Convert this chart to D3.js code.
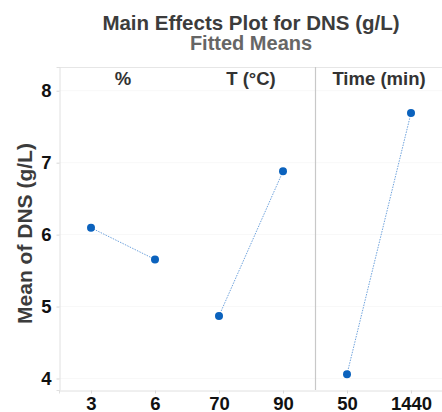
<!DOCTYPE html>
<html>
<head>
<meta charset="utf-8">
<script src="https://cdn.jsdelivr.net/npm/d3@7"></script>
<style>
  html, body { margin: 0; padding: 0; background: #fff; }
  svg { display: block; font-family: "Liberation Sans", Arial, sans-serif; }
</style>
</head>
<body>
<svg id="chart" width="442" height="412"></svg>
<script>
// ---- data ----
const factors = ["%", "T (°C)", "Time (min)"];
const levels = [["3", "6"], ["70", "90"], ["50", "1440"]];
const means = [[6.095, 5.655], [4.87, 6.88], [4.06, 7.69]];
const yTicks = [4, 5, 6, 7, 8];
const titleText = "Main Effects Plot for DNS (g/L)";
const subtitleText = "Fitted Means";
const yLabel = "Mean of DNS (g/L)";

(function () {
// ---- layout ----
const svg = d3.select("#chart");
const pLeft = 59, pRight = 443, pTop = 67, pBottom = 390;

const y = d3.scaleLinear().domain([3.84, 8.33]).range([pBottom, pTop]);

const panel = d3.scaleBand().domain(factors).range([pLeft, pRight]).padding(0);
const allLevels = [];
factors.forEach((f, i) => levels[i].forEach(l => allLevels.push(f + "|" + l)));
const x = d3.scalePoint().domain(allLevels).range([pLeft, pRight]).padding(0.5);

// faint gridlines
svg.append("g").selectAll("line").data(yTicks).join("line")
  .attr("x1", pLeft).attr("x2", pRight)
  .attr("y1", d => y(d)).attr("y2", d => y(d))
  .attr("stroke", "#f8f8f8").attr("stroke-width", 1);

// frame top line
svg.append("line").attr("x1", pLeft).attr("x2", pRight).attr("y1", pTop + 0.5).attr("y2", pTop + 0.5)
  .attr("stroke", "#e6e6e6");
// separator between T and Time
svg.append("line").attr("x1", panel("Time (min)") + 0.5).attr("x2", panel("Time (min)") + 0.5)
  .attr("y1", pTop).attr("y2", pBottom).attr("stroke", "#c8c8c8").attr("stroke-width", 1.2);

// y axis
const yAxis = d3.axisLeft(y).tickValues(yTicks).tickSize(3).tickPadding(5).tickFormat(d3.format("d"));
const gy = svg.append("g").attr("transform", `translate(${pLeft + 0.5},0)`).call(yAxis);
gy.select(".domain").attr("stroke", "#e0e0e0");
gy.selectAll(".tick line").attr("stroke", "#d8d8d8");
gy.selectAll(".tick text").attr("font-size", 18.5).attr("font-weight", "bold").attr("fill", "#111")
  .attr("font-family", "Liberation Sans, Arial, sans-serif");

// x axis
const xAxis = d3.axisBottom(x).tickSize(3).tickPadding(3.5).tickFormat(d => d.split("|")[1]);
const gx = svg.append("g").attr("transform", `translate(0,${pBottom + 0.5})`).call(xAxis);
gx.select(".domain").attr("stroke", "#e0e0e0");
gx.selectAll(".tick line").attr("stroke", "#d8d8d8");
gx.selectAll(".tick text").attr("font-size", 18.5).attr("font-weight", "bold").attr("fill", "#111")
  .attr("font-family", "Liberation Sans, Arial, sans-serif");

// panel headers
svg.append("g").selectAll("text").data(factors).join("text")
  .attr("x", d => panel(d) + panel.bandwidth() / 2)
  .attr("y", 85)
  .attr("text-anchor", "middle")
  .attr("font-size", 18.5).attr("font-weight", "bold").attr("fill", "#333")
  .text(d => d);

// lines and points
const line = d3.line().x(d => x(d.key)).y(d => y(d.v));
factors.forEach((f, i) => {
  const pts = levels[i].map((l, j) => ({ key: f + "|" + l, v: means[i][j] }));
  svg.append("path").datum(pts).attr("d", line)
    .attr("fill", "none").attr("stroke", "#6fa3dd").attr("stroke-width", 1)
    .attr("stroke-dasharray", "1.5,1.2");
  svg.append("g").selectAll("circle").data(pts).join("circle")
    .attr("cx", d => x(d.key)).attr("cy", d => y(d.v)).attr("r", 4)
    .attr("fill", "#0b62bd");
});

// titles
const cx = (pLeft + pRight) / 2;
svg.append("text").attr("x", cx).attr("y", 30).attr("text-anchor", "middle")
  .attr("font-size", 20.5).attr("font-weight", "bold").attr("fill", "#3c3c3c").text(titleText);
svg.append("text").attr("x", cx).attr("y", 50).attr("text-anchor", "middle")
  .attr("font-size", 20).attr("font-weight", "bold").attr("fill", "#666").text(subtitleText);

// y label
svg.append("text").attr("transform", `translate(32,${(pTop + pBottom) / 2 + 5}) rotate(-90)`)
  .attr("text-anchor", "middle").attr("font-size", 21).attr("font-weight", "bold")
  .attr("fill", "#3c3c3c").text(yLabel);
})();
</script>
</body>
</html>
